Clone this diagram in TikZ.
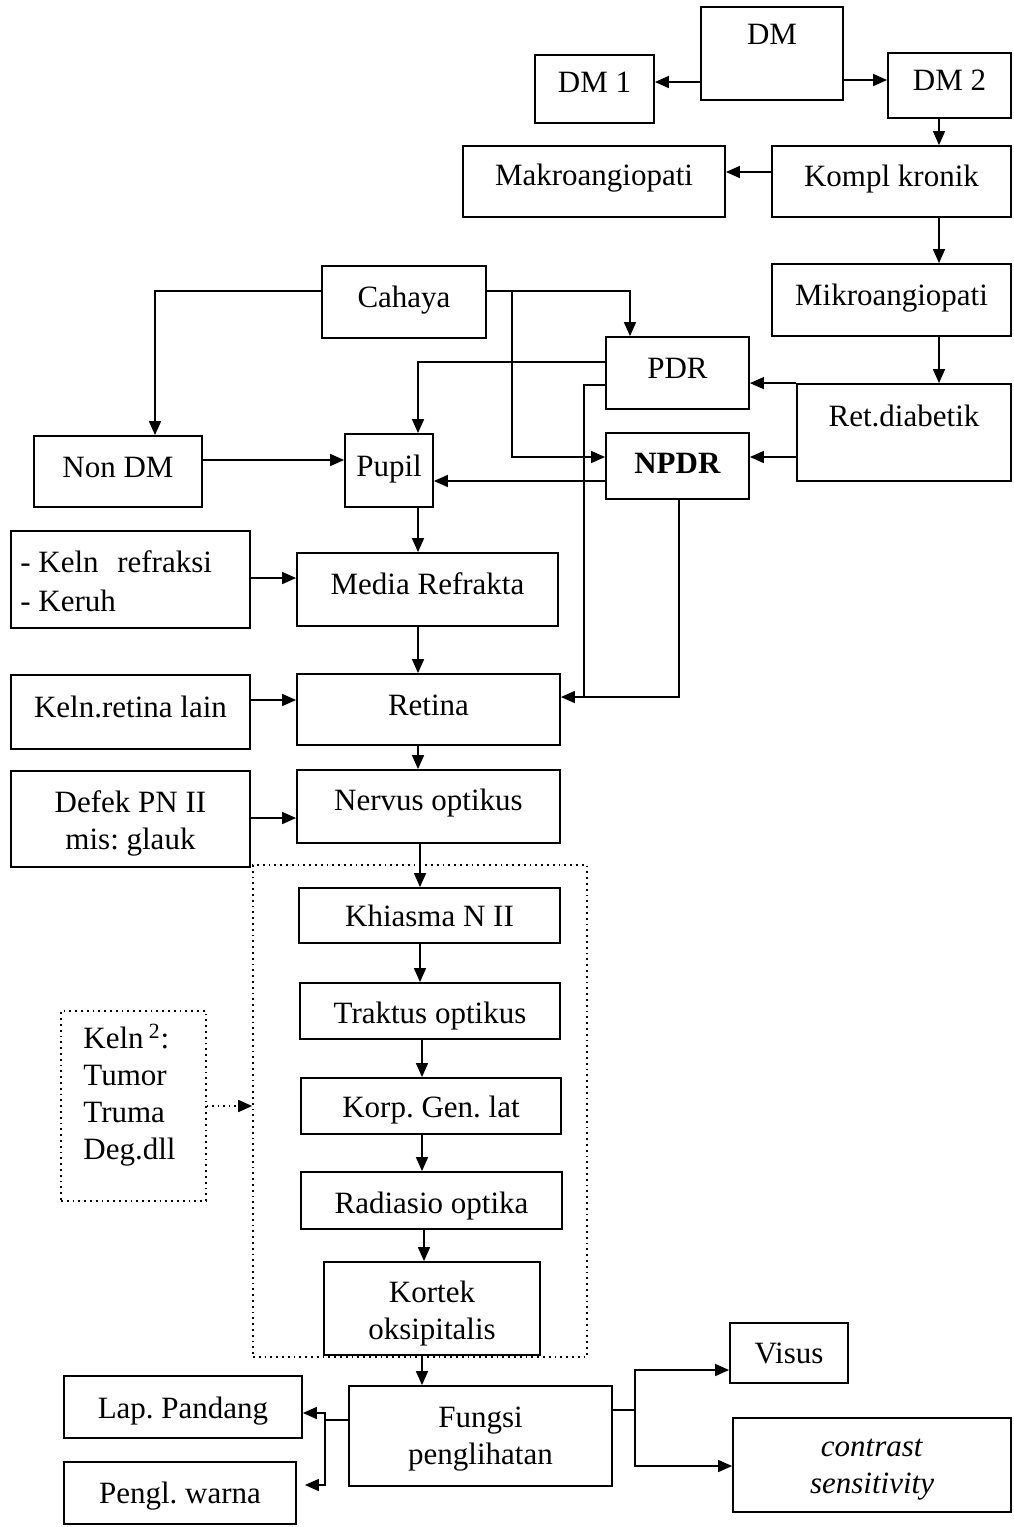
\documentclass[tikz,border=0pt]{standalone}
\usepackage{fontspec}
\setmainfont{Liberation Serif}
\usetikzlibrary{arrows.meta,calc}
\frenchspacing
% #1 box options, #2 name, #3-#6 corners (px), #7 text vertical offset (px), #8 text
\newcommand\mkbox[8][]{%
  \node[box,#1,minimum width={(#5-#3)*0.5pt},minimum height={(#6-#4)*0.5pt}] (#2) at ({(#3+#5)/2},{(#4+#6)/2}) {};
  \node[lbl] (#2-t) at ({(#3+#5)/2},{(#4+#6)/2+#7}) {#8};}
\begin{document}
\begin{tikzpicture}[x=0.5pt,y=-0.5pt,
  box/.style={draw,line width=0.9pt,inner sep=0pt},
  lbl/.style={inner sep=0pt,font=\fontsize{15.5}{18.5}\selectfont,align=center},
  dotbox/.style={dotted,line width=0.8pt},
  arr/.style={line width=0.75pt,-{Triangle[length=7pt,width=6pt]}},
  dotarr/.style={arr,dotted},
  ln/.style={line width=0.75pt}]
\useasboundingbox (0,0) rectangle (1013,1527);
% ---- boxes
\mkbox{DM}{701}{7}{843}{100}{-19}{DM}
\mkbox{DMa}{535}{55}{654}{123}{-7}{DM 1}
\mkbox{DMb}{888}{53}{1011}{118}{-5}{DM 2}
\mkbox{Makro}{463}{146}{725}{217}{-3}{Makroangiopati}
\mkbox{Kompl}{772}{146}{1011}{217}{-2}{Kompl kronik}
\mkbox{Cahaya}{322}{266}{486}{338}{-2}{Cahaya}
\mkbox{Mikro}{772}{264}{1011}{336}{-2}{Mikroangiopati}
\mkbox{PDR}{606}{337}{749}{409}{-5}{PDR}
\mkbox{Ret}{797}{384}{1011}{481}{-17}{Ret.diabetik}
\mkbox{NonDM}{34}{436}{202}{507}{-4}{Non DM}
\mkbox{Pupil}{345}{434}{433}{507}{-1}{Pupil}
\mkbox{NPDR}{606}{433}{749}{499}{-3}{\textbf{NPDR}}
\mkbox{Krefr}{11}{531}{250}{628}{0}{}
\node[lbl,align=left,anchor=west,font=\fontsize{15.5}{19.5}\selectfont] (Krefr-tt) at (20,581) {-~Keln\hspace{0.6em}refraksi\\-~Keruh};
\mkbox{Media}{297}{553}{558}{626}{-6}{Media Refrakta}
\mkbox{Kret}{11}{675}{250}{749}{-5}{Keln.retina lain}
\mkbox{Retina}{297}{674}{560}{745}{-4}{Retina}
\mkbox{Defek}{11}{771}{250}{867}{4}{Defek PN II\\mis: glauk}
\mkbox{Nervus}{297}{770}{560}{843}{-3}{Nervus optikus}
\mkbox[dotbox]{grp}{253}{865}{587}{1357}{0}{}
\mkbox{Khiasma}{299}{888}{560}{943}{0}{Khiasma N II}
\mkbox{Traktus}{300}{983}{560}{1039}{5}{Traktus optikus}
\mkbox{Korp}{301}{1078}{561}{1134}{4}{Korp. Gen. lat}
\mkbox{Radiasio}{301}{1172}{562}{1229}{6}{Radiasio optika}
\mkbox{Kortek}{324}{1262}{540}{1355}{5}{Kortek\\oksipitalis}
\mkbox[dotbox]{KelnT}{61}{1011}{206}{1201}{0}{}
\node[lbl,align=left,anchor=west] (KelnT-tt) at (83,1095) {Keln\,\textsuperscript{2}:\\Tumor\\Truma\\Deg.dll};
\mkbox{Fungsi}{349}{1386}{612}{1486}{3}{Fungsi\\penglihatan}
\mkbox{Lap}{64}{1376}{302}{1438}{4}{Lap. Pandang}
\mkbox{Pengl}{64}{1462}{296}{1524}{3}{Pengl. warna}
\mkbox{Visus}{730}{1323}{848}{1383}{0}{Visus}
\mkbox{Contr}{733}{1418}{1011}{1512}{5}{\textit{contrast}\\\textit{sensitivity}}
% ---- junction points
\coordinate (cbr) at (512,291);
\coordinate (rj) at (584,697);
\coordinate (fj) at (325,1420);
\coordinate (gj) at (635,1410);
% ---- connectors
\draw[arr] (DM.west |- 0,82) -- (DMa.east |- 0,82);
\draw[arr] (DM.east |- 0,80) -- (DMb.west |- 0,80);
\draw[arr] (DMb.south -| 939,0) -- (Kompl.north -| 939,0);
\draw[arr] (Kompl.west |- 0,172) -- (Makro.east |- 0,172);
\draw[arr] (Kompl.south -| 939,0) -- (Mikro.north -| 939,0);
\draw[arr] (Mikro.south -| 939,0) -- (Ret.north -| 939,0);
\draw[arr] (Ret.north west) -- (PDR.east |- Ret.north west);
\draw[arr] (Ret.west |- 0,457) -- (NPDR.east |- 0,457);
\draw[arr] (Cahaya.west |- 0,291) -| (NonDM.north -| 155,0);
\draw[arr] (Cahaya.east |- 0,291) -| (PDR.north -| 630,0);
\draw[arr] (cbr) |- (NPDR.west |- 0,457);
\draw[arr] (PDR.west |- 0,362) -| (Pupil.north -| 418,0);
\draw[ln] (PDR.west |- 0,385) -| (rj);
\draw[arr] (NPDR.south -| 679,0) |- (Retina.east |- rj);
\draw[arr] (NPDR.west |- 0,481) -- (Pupil.east |- 0,481);
\draw[arr] (NonDM.east |- 0,460) -- (Pupil.west |- 0,460);
\draw[arr] (Pupil.south -| 418,0) -- (Media.north -| 418,0);
\draw[arr] (Krefr.east |- 0,578) -- (Media.west |- 0,578);
\draw[arr] (Media.south -| 418,0) -- (Retina.north -| 418,0);
\draw[arr] (Kret.east |- 0,700) -- (Retina.west |- 0,700);
\draw[arr] (Retina.south -| 418,0) -- (Nervus.north -| 418,0);
\draw[arr] (Defek.east |- 0,818) -- (Nervus.west |- 0,818);
\draw[arr] (Nervus.south -| 420,0) -- (Khiasma.north -| 420,0);
\draw[arr] (Khiasma.south -| 420,0) -- (Traktus.north -| 420,0);
\draw[arr] (Traktus.south -| 422,0) -- (Korp.north -| 422,0);
\draw[arr] (Korp.south -| 422,0) -- (Radiasio.north -| 422,0);
\draw[arr] (Radiasio.south -| 424,0) -- (Kortek.north -| 424,0);
\draw[arr] (Kortek.south -| 422,0) -- (Fungsi.north -| 422,0);
\draw[dotarr] (KelnT.east |- 0,1106) -- (grp.west |- 0,1106);
\draw[ln] (Fungsi.west |- fj) -- (fj);
\draw[arr] (fj) |- (Lap.east |- 0,1413);
\draw[arr] (fj) |- ([xshift=4pt]Pengl.east |- 0,1485);
\draw[ln] (Fungsi.east |- gj) -- (gj);
\draw[arr] (gj) |- (Visus.west |- 0,1370);
\draw[arr] (gj) |- (Contr.west |- 0,1466);
\end{tikzpicture}
\end{document}
